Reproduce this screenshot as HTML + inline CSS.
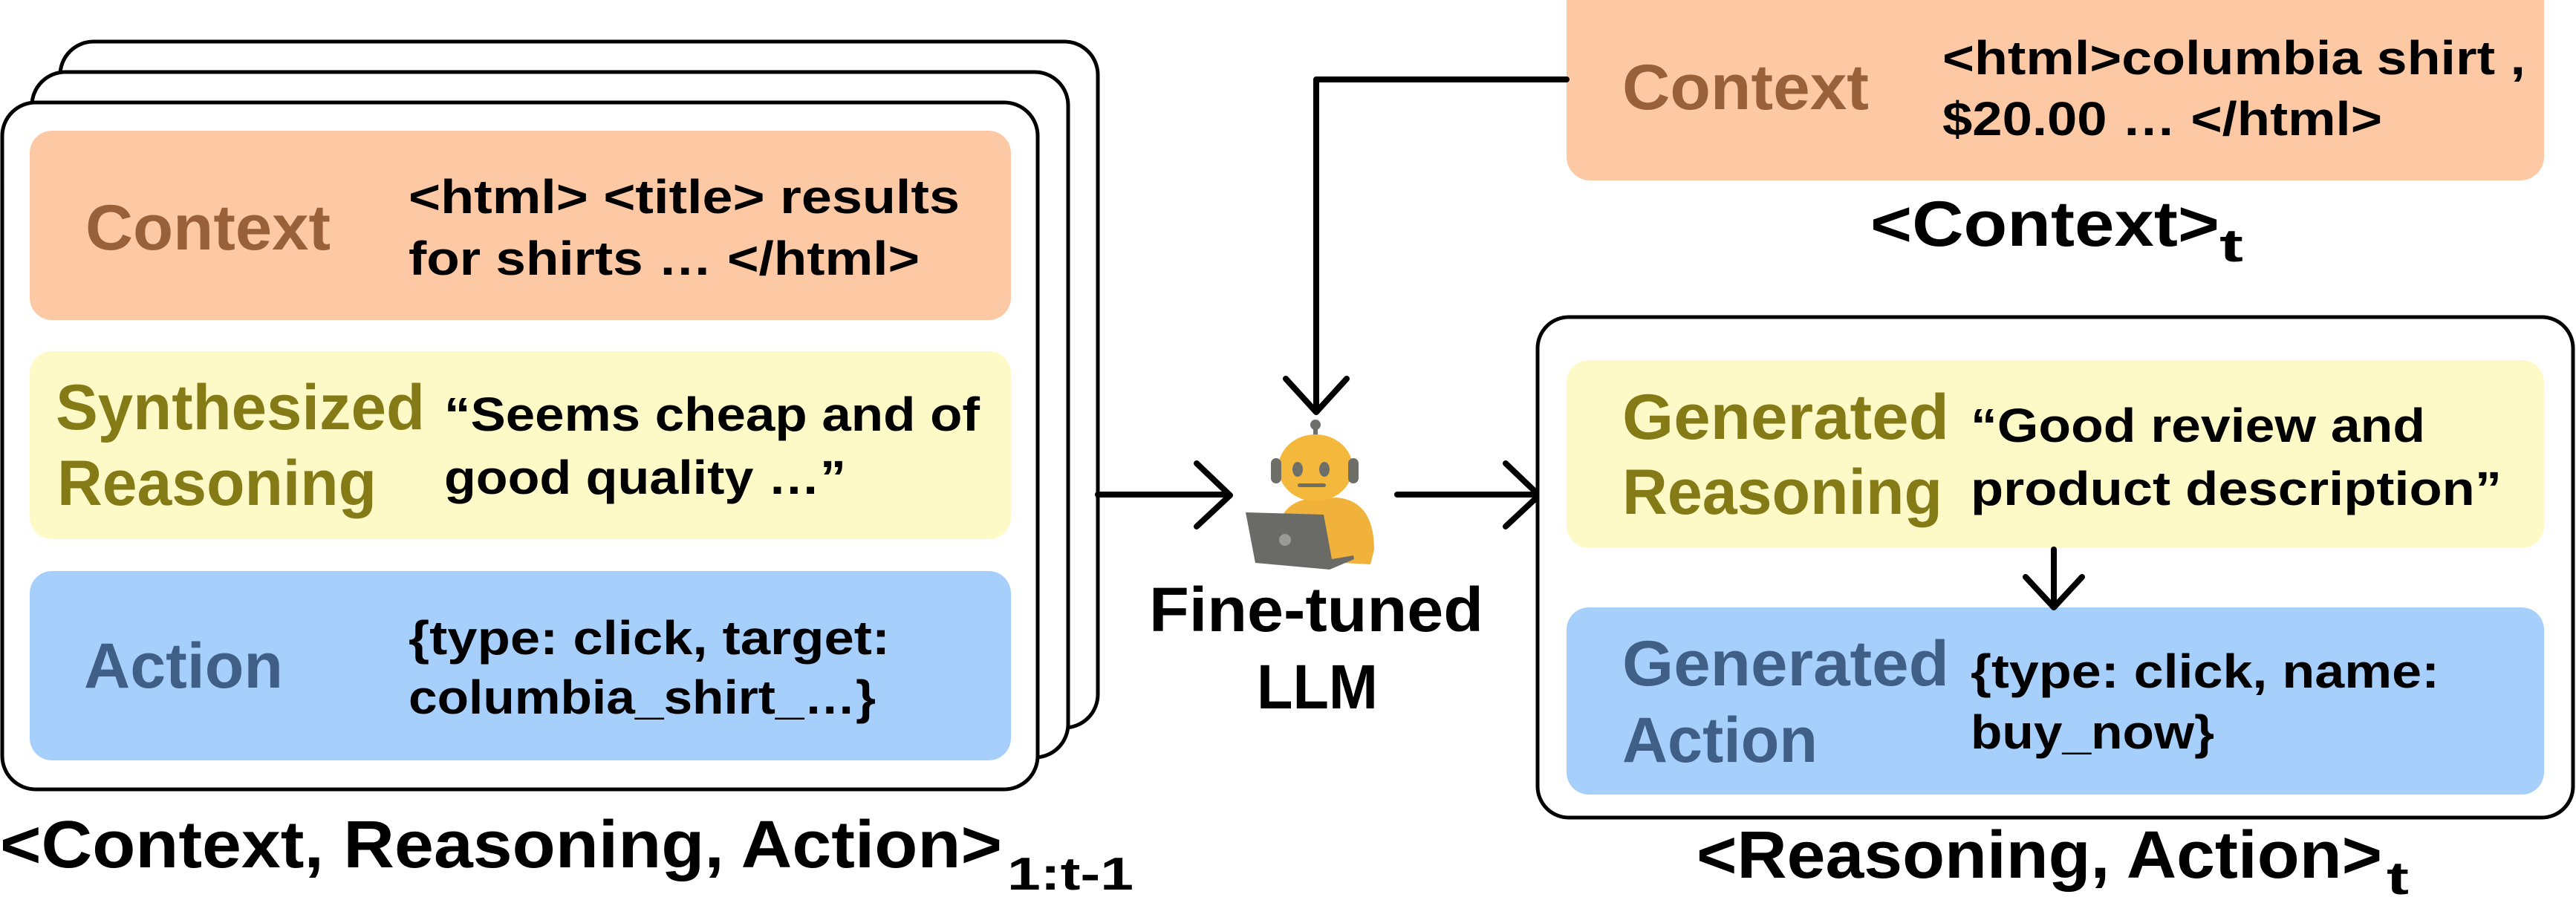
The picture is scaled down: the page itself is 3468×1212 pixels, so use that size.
<!DOCTYPE html>
<html><head><meta charset="utf-8"><style>
html,body{margin:0;padding:0;background:#fff;}
svg{display:block;}
text{font-family:"Liberation Sans",sans-serif;font-weight:bold;}
</style></head><body>
<svg width="3468" height="1212" viewBox="0 0 3468 1212" xmlns="http://www.w3.org/2000/svg">
<!-- stacked boxes -->
<rect x="81" y="56" width="1397" height="924" rx="45" fill="#fff" stroke="#000" stroke-width="5"/>
<rect x="43" y="97" width="1395" height="923" rx="45" fill="#fff" stroke="#000" stroke-width="5"/>
<rect x="3" y="138" width="1394" height="925" rx="45" fill="#fff" stroke="#000" stroke-width="5"/>
<rect x="40" y="176" width="1321" height="255" rx="30" fill="#fdc8a4"/>
<rect x="40" y="473" width="1321" height="253" rx="30" fill="#fefac8"/>
<rect x="40" y="769" width="1321" height="255" rx="30" fill="#a7cffc"/>
<text x="115" y="336" font-size="86" fill="#99613a" textLength="330" lengthAdjust="spacingAndGlyphs">Context</text>
<text x="550" y="287" font-size="64" textLength="742" lengthAdjust="spacingAndGlyphs">&lt;html&gt; &lt;title&gt; results</text>
<text x="550" y="370" font-size="64" textLength="688" lengthAdjust="spacingAndGlyphs">for shirts … &lt;/html&gt;</text>
<text x="75" y="578" font-size="86" fill="#857b16" textLength="497" lengthAdjust="spacingAndGlyphs">Synthesized</text>
<text x="77" y="680" font-size="86" fill="#857b16" textLength="430" lengthAdjust="spacingAndGlyphs">Reasoning</text>
<text x="598" y="580" font-size="64" textLength="721" lengthAdjust="spacingAndGlyphs">“Seems cheap and of</text>
<text x="598" y="665" font-size="64" textLength="541" lengthAdjust="spacingAndGlyphs">good quality …”</text>
<text x="113" y="926" font-size="86" fill="#3f5f86" textLength="268" lengthAdjust="spacingAndGlyphs">Action</text>
<text x="550" y="881" font-size="64" textLength="648" lengthAdjust="spacingAndGlyphs">{type: click, target:</text>
<text x="550" y="961" font-size="64" textLength="629" lengthAdjust="spacingAndGlyphs">columbia_shirt_…}</text>
<text x="0" y="1168" font-size="90" textLength="1349" lengthAdjust="spacingAndGlyphs">&lt;Context, Reasoning, Action&gt;</text>
<text x="1356" y="1198" font-size="62" textLength="170" lengthAdjust="spacingAndGlyphs">1:t-1</text>

<!-- top context -->
<rect x="2109" y="-40" width="1316" height="283" rx="32" fill="#fdc8a4"/>
<text x="2184" y="147" font-size="86" fill="#99613a" textLength="332" lengthAdjust="spacingAndGlyphs">Context</text>
<text x="2615" y="100" font-size="64" textLength="785" lengthAdjust="spacingAndGlyphs">&lt;html&gt;columbia shirt ,</text>
<text x="2615" y="182" font-size="64" textLength="592" lengthAdjust="spacingAndGlyphs">$20.00 … &lt;/html&gt;</text>
<text x="2518" y="331" font-size="86" textLength="470" lengthAdjust="spacingAndGlyphs">&lt;Context&gt;</text>
<text x="2988" y="352" font-size="62" textLength="32" lengthAdjust="spacingAndGlyphs">t</text>

<!-- connectors -->
<g stroke="#000" stroke-width="8" fill="none" stroke-linecap="round" stroke-linejoin="round">
<polyline points="2109,107 1772,107 1772,553"/>
<polyline points="1731,510 1772,555 1813,510"/>
<line x1="1478" y1="666" x2="1652" y2="666"/>
<polyline points="1611,624 1656,667 1611,709"/>
<line x1="1881" y1="666" x2="2070" y2="666"/>
<polyline points="2027,624 2072,667 2027,709"/>
<line x1="2765" y1="740" x2="2765" y2="815"/>
<polyline points="2727,777 2765,818 2803,777"/>
</g>

<!-- robot -->
<g>
<path d="M1717,753 Q1712,680 1760,672 L1800,670 Q1850,675 1850,740 L1845,760 Z" fill="#f0b23a"/>
<circle cx="1771" cy="572" r="7" fill="#6f6f6a"/>
<rect x="1768" y="575" width="6" height="15" fill="#6f6f6a"/>
<ellipse cx="1771" cy="630" rx="50" ry="45" fill="#f3b83c"/>
<rect x="1711" y="617" width="14" height="34" rx="7" fill="#6f6f6a"/>
<rect x="1815" y="617" width="14" height="34" rx="7" fill="#6f6f6a"/>
<ellipse cx="1747" cy="632" rx="7" ry="10" fill="#6f6f6a"/>
<ellipse cx="1783" cy="632" rx="7" ry="10" fill="#6f6f6a"/>
<rect x="1747" y="651" width="38" height="5" rx="2.5" fill="#6f6f6a"/>
<polygon points="1677,690 1782,693 1793,753 1822,748 1823,753 1790,767 1690,758" fill="#6a6a66"/>
<circle cx="1730" cy="727" r="8" fill="#9a9a96"/>
<ellipse cx="1805" cy="740" rx="14" ry="10" fill="#f0b23a"/>
</g>
<text x="1547" y="850" font-size="84" textLength="450" lengthAdjust="spacingAndGlyphs">Fine-tuned</text>
<text x="1692" y="954" font-size="84" textLength="163" lengthAdjust="spacingAndGlyphs">LLM</text>

<!-- right box -->
<rect x="2070" y="427" width="1394" height="674" rx="42" fill="#fff" stroke="#000" stroke-width="5"/>
<rect x="2109" y="485" width="1316" height="253" rx="30" fill="#fefac8"/>
<rect x="2109" y="818" width="1316" height="252" rx="30" fill="#a7cffc"/>
<g stroke="#000" stroke-width="8" fill="none" stroke-linecap="round" stroke-linejoin="round">
<line x1="2765" y1="740" x2="2765" y2="815"/>
<polyline points="2727,777 2765,818 2803,777"/>
</g>
<text x="2184" y="591" font-size="86" fill="#857b16" textLength="440" lengthAdjust="spacingAndGlyphs">Generated</text>
<text x="2184" y="692" font-size="86" fill="#857b16" textLength="431" lengthAdjust="spacingAndGlyphs">Reasoning</text>
<text x="2653" y="595" font-size="64" textLength="612" lengthAdjust="spacingAndGlyphs">“Good review and</text>
<text x="2653" y="680" font-size="64" textLength="715" lengthAdjust="spacingAndGlyphs">product description”</text>
<text x="2184" y="923" font-size="86" fill="#3f5f86" textLength="440" lengthAdjust="spacingAndGlyphs">Generated</text>
<text x="2184" y="1026" font-size="86" fill="#3f5f86" textLength="263" lengthAdjust="spacingAndGlyphs">Action</text>
<text x="2653" y="926" font-size="64" textLength="631" lengthAdjust="spacingAndGlyphs">{type: click, name:</text>
<text x="2653" y="1008" font-size="64" textLength="328" lengthAdjust="spacingAndGlyphs">buy_now}</text>
<text x="2284" y="1182" font-size="90" textLength="923" lengthAdjust="spacingAndGlyphs">&lt;Reasoning, Action&gt;</text>
<text x="3213" y="1204" font-size="62" textLength="30" lengthAdjust="spacingAndGlyphs">t</text>
</svg>
</body></html>
